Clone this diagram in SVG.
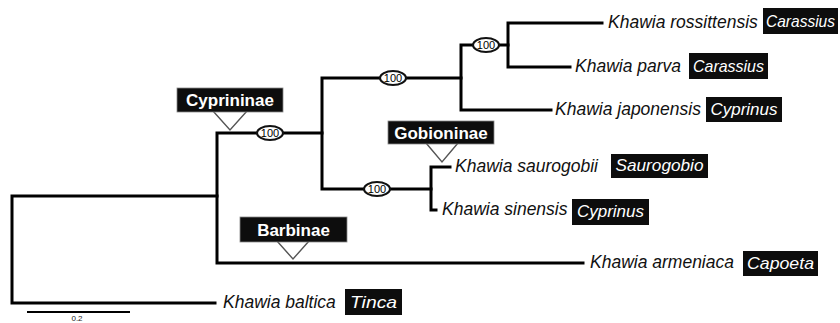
<svg xmlns="http://www.w3.org/2000/svg" width="840" height="323" viewBox="0 0 840 323">
<style>
.br{fill:none;stroke:#000;stroke-width:3;stroke-linecap:square}
.sp{font-family:"Liberation Sans",Arial,sans-serif;font-style:italic;font-size:17.5px;fill:#111}
.gb{fill:#0d0d0d}
.gt{font-family:"Liberation Sans",Arial,sans-serif;font-style:italic;font-size:17px;fill:#fff;text-anchor:middle}
.cb{fill:#0d0d0d;stroke:#888;stroke-width:0.8}
.ct{font-family:"Liberation Sans",Arial,sans-serif;font-weight:bold;font-size:17px;fill:#fff;text-anchor:middle}
.tri{fill:#fff;stroke:#555;stroke-width:1.4}
.bs{fill:#fff;stroke:#111;stroke-width:2}
.bt{font-family:"Liberation Sans",Arial,sans-serif;font-size:11px;fill:#000;text-anchor:middle}
</style>
<g id="connectors">
<path class="br" d="M217,196 H12 V303 H215"/>
<path class="br" d="M322,133 H217 V263 H583"/>
<path class="br" d="M461,78 H322 V189 H431"/>
<path class="br" d="M508,45 H461 V110 H551"/>
<path class="br" d="M602,23 H508 V67 H570"/>
<path class="br" d="M450,167 H431 V210 H436"/>
</g>
<g id="bootstraps">
<g id="bs1"><ellipse class="bs" cx="270" cy="133" rx="13" ry="7"/><text class="bt" x="270" y="137">100</text></g>
<g id="bs2"><ellipse class="bs" cx="393" cy="78" rx="13" ry="7"/><text class="bt" x="393" y="82">100</text></g>
<g id="bs3"><ellipse class="bs" cx="486" cy="45" rx="13" ry="7"/><text class="bt" x="486" y="49">100</text></g>
<g id="bs4"><ellipse class="bs" cx="377" cy="189" rx="13" ry="7"/><text class="bt" x="377" y="193">100</text></g>
</g>
<g id="leaf-rossittensis"><text class="sp" x="608" y="28">Khawia rossittensis</text><rect class="gb" x="763" y="8" width="75" height="26"/><text class="gt" x="800.5" y="27" textLength="69" lengthAdjust="spacingAndGlyphs">Carassius</text></g>
<g id="leaf-parva"><text class="sp" x="575" y="72">Khawia parva</text><rect class="gb" x="689" y="53" width="79" height="26"/><text class="gt" x="728.5" y="72" textLength="71" lengthAdjust="spacingAndGlyphs">Carassius</text></g>
<g id="leaf-japonensis"><text class="sp" x="555" y="115">Khawia japonensis</text><rect class="gb" x="706" y="97" width="76" height="25"/><text class="gt" x="744" y="115" textLength="67" lengthAdjust="spacingAndGlyphs">Cyprinus</text></g>
<g id="leaf-saurogobii"><text class="sp" x="455" y="172">Khawia saurogobii</text><rect class="gb" x="611" y="154" width="97" height="24"/><text class="gt" x="659.5" y="171" textLength="88" lengthAdjust="spacingAndGlyphs">Saurogobio</text></g>
<g id="leaf-sinensis"><text class="sp" x="442" y="215">Khawia sinensis</text><rect class="gb" x="572" y="199" width="77" height="26"/><text class="gt" x="610.5" y="217" textLength="67" lengthAdjust="spacingAndGlyphs">Cyprinus</text></g>
<g id="leaf-armeniaca"><text class="sp" x="590" y="268">Khawia armeniaca</text><rect class="gb" x="743" y="251" width="75" height="25"/><text class="gt" x="780.5" y="269" textLength="67" lengthAdjust="spacingAndGlyphs">Capoeta</text></g>
<g id="leaf-baltica"><text class="sp" x="223" y="308">Khawia baltica</text><rect class="gb" x="345" y="289" width="57" height="26"/><text class="gt" x="373.5" y="308" textLength="47" lengthAdjust="spacingAndGlyphs">Tinca</text></g>
<g id="clade-cyprininae"><path class="tri" d="M213,111 L230,130 L247,111"/><rect class="cb" x="177" y="88" width="106" height="24"/><text class="ct" x="230" y="106">Cyprininae</text></g>
<g id="clade-barbinae"><path class="tri" d="M277,241 L293,259 L309,241"/><rect class="cb" x="240" y="217" width="107" height="25"/><text class="ct" x="293.5" y="236">Barbinae</text></g>
<g id="clade-gobioninae"><path class="tri" d="M426,143 L442,162 L458,143"/><rect class="cb" x="388" y="121" width="106" height="23"/><text class="ct" x="441" y="139">Gobioninae</text></g>
<g id="scale"><line x1="27" y1="312" x2="130" y2="312" stroke="#000" stroke-width="2"/><text x="77" y="321" font-family="Liberation Sans,Arial,sans-serif" font-size="8" text-anchor="middle" fill="#222">0.2</text></g>
</svg>
